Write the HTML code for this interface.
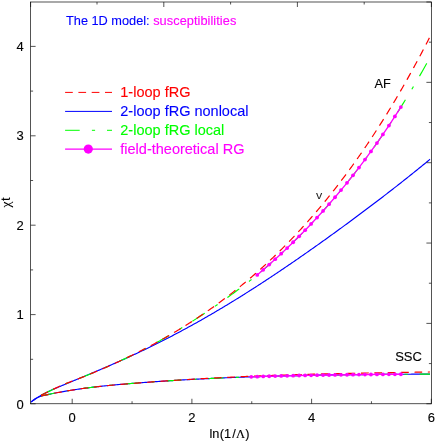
<!DOCTYPE html>
<html><head><meta charset="utf-8"><title>The 1D model: susceptibilities</title>
<style>html,body{margin:0;padding:0;background:#fff}body{width:436px;height:442px;position:relative;overflow:hidden}</style>
</head><body>
<svg width="436" height="442" viewBox="0 0 436 442" style="position:absolute;left:0;top:0">
<rect width="436" height="442" fill="#fff"/>
<g fill="none" stroke-width="1.3" stroke-linecap="butt">
<path d="M31.10,402.00 L32.10,401.30 L33.10,400.60 L34.10,399.92 L35.10,399.23 L36.10,398.55 L37.10,397.86 L38.10,397.18 L39.10,396.53 L40.10,395.92 L41.10,395.35 L42.10,394.81 L43.10,394.28 L44.10,393.76 L45.10,393.26 L46.10,392.75 L47.10,392.25 L48.10,391.75 L49.10,391.27 L50.10,390.79 L51.09,390.31 L52.09,389.84 L53.09,389.38 L54.09,388.93 L55.09,388.49 L56.09,388.05 L57.09,387.62 L58.09,387.19 L59.09,386.77 L60.09,386.35 L61.09,385.93 L62.09,385.52 L63.09,385.10 L64.09,384.68 L65.09,384.27 L66.09,383.86 L67.09,383.45 L68.09,383.03 L69.09,382.62 L70.09,382.21 L71.09,381.80 L72.09,381.38 L73.09,380.97 L74.09,380.56 L75.09,380.15 L76.09,379.73 L77.09,379.32 L78.09,378.91 L79.09,378.49 L80.09,378.08 L81.09,377.66 L82.09,377.25 L83.09,376.83 L84.09,376.42 L85.09,376.00 L86.09,375.59 L87.09,375.17 L88.09,374.75 L89.09,374.33 L90.09,373.91 L91.08,373.49 L92.08,373.07 L93.08,372.65 L94.08,372.23 L95.08,371.81 L96.08,371.39 L97.08,370.96 L98.08,370.54 L99.08,370.11 L100.08,369.69 L101.08,369.26 L102.08,368.83 L103.08,368.40 L104.08,367.98 L105.08,367.55 L106.08,367.11 L107.08,366.68 L108.08,366.25 L109.08,365.81 L110.08,365.38 L111.08,364.94 L112.08,364.51 L113.08,364.07 L114.08,363.63 L115.08,363.19 L116.08,362.75 L117.08,362.30 L118.08,361.86 L119.08,361.41 L120.08,360.97 L121.08,360.52 L122.08,360.07 L123.08,359.62 L124.08,359.17 L125.08,358.72 L126.08,358.27 L127.08,357.81 L128.08,357.36 L129.08,356.90 L130.08,356.44 L131.07,355.98 L132.07,355.52 L133.07,355.06 L134.07,354.59 L135.07,354.13 L136.07,353.66 L137.07,353.19 L138.07,352.72 L139.07,352.25 L140.07,351.78 L141.07,351.31 L142.07,350.83 L143.07,350.36 L144.07,349.88 L145.07,349.40 L146.07,348.92 L147.07,348.44 L148.07,347.95 L149.07,347.47 L150.07,346.98 L151.07,346.50 L152.07,346.01 L153.07,345.51 L154.07,345.02 L155.07,344.53 L156.07,344.03 L157.07,343.54 L158.07,343.04 L159.07,342.54 L160.07,342.04 L161.07,341.53 L162.07,341.03 L163.07,340.52 L164.07,340.01 L165.07,339.51 L166.07,338.99 L167.07,338.48 L168.07,337.97 L169.07,337.45 L170.07,336.94 L171.06,336.42 L172.06,335.90 L173.06,335.38 L174.06,334.85 L175.06,334.33 L176.06,333.80 L177.06,333.27 L178.06,332.74 L179.06,332.21 L180.06,331.68 L181.06,331.14 L182.06,330.61 L183.06,330.07 L184.06,329.53 L185.06,328.99 L186.06,328.45 L187.06,327.91 L188.06,327.36 L189.06,326.81 L190.06,326.26 L191.06,325.71 L192.06,325.16 L193.06,324.61 L194.06,324.05 L195.06,323.50 L196.06,322.94 L197.06,322.38 L198.06,321.82 L199.06,321.26 L200.06,320.69 L201.06,320.13 L202.06,319.56 L203.06,318.99 L204.06,318.42 L205.06,317.85 L206.06,317.28 L207.06,316.70 L208.06,316.12 L209.06,315.55 L210.06,314.97 L211.05,314.39 L212.05,313.80 L213.05,313.22 L214.05,312.63 L215.05,312.05 L216.05,311.46 L217.05,310.87 L218.05,310.28 L219.05,309.68 L220.05,309.09 L221.05,308.49 L222.05,307.90 L223.05,307.30 L224.05,306.70 L225.05,306.10 L226.05,305.49 L227.05,304.89 L228.05,304.28 L229.05,303.67 L230.05,303.07 L231.05,302.45 L232.05,301.84 L233.05,301.23 L234.05,300.62 L235.05,300.00 L236.05,299.38 L237.05,298.76 L238.05,298.14 L239.05,297.52 L240.05,296.90 L241.05,296.27 L242.05,295.65 L243.05,295.02 L244.05,294.39 L245.05,293.76 L246.05,293.13 L247.05,292.50 L248.05,291.87 L249.05,291.23 L250.05,290.60 L251.04,289.96 L252.04,289.32 L253.04,288.68 L254.04,288.04 L255.04,287.40 L256.04,286.75 L257.04,286.11 L258.04,285.46 L259.04,284.81 L260.04,284.16 L261.04,283.51 L262.04,282.86 L263.04,282.21 L264.04,281.56 L265.04,280.90 L266.04,280.25 L267.04,279.59 L268.04,278.93 L269.04,278.27 L270.04,277.61 L271.04,276.95 L272.04,276.29 L273.04,275.62 L274.04,274.96 L275.04,274.29 L276.04,273.62 L277.04,272.95 L278.04,272.28 L279.04,271.61 L280.04,270.94 L281.04,270.27 L282.04,269.59 L283.04,268.92 L284.04,268.24 L285.04,267.56 L286.04,266.89 L287.04,266.21 L288.04,265.52 L289.04,264.84 L290.04,264.16 L291.03,263.48 L292.03,262.79 L293.03,262.11 L294.03,261.42 L295.03,260.73 L296.03,260.04 L297.03,259.35 L298.03,258.66 L299.03,257.97 L300.03,257.28 L301.03,256.58 L302.03,255.89 L303.03,255.19 L304.03,254.50 L305.03,253.80 L306.03,253.10 L307.03,252.40 L308.03,251.70 L309.03,251.00 L310.03,250.30 L311.03,249.59 L312.03,248.89 L313.03,248.19 L314.03,247.48 L315.03,246.77 L316.03,246.07 L317.03,245.36 L318.03,244.65 L319.03,243.94 L320.03,243.23 L321.03,242.51 L322.03,241.80 L323.03,241.09 L324.03,240.37 L325.03,239.66 L326.03,238.94 L327.03,238.22 L328.03,237.50 L329.03,236.78 L330.03,236.06 L331.02,235.34 L332.02,234.62 L333.02,233.90 L334.02,233.18 L335.02,232.45 L336.02,231.73 L337.02,231.00 L338.02,230.27 L339.02,229.55 L340.02,228.82 L341.02,228.09 L342.02,227.36 L343.02,226.63 L344.02,225.89 L345.02,225.16 L346.02,224.43 L347.02,223.69 L348.02,222.96 L349.02,222.22 L350.02,221.48 L351.02,220.75 L352.02,220.01 L353.02,219.27 L354.02,218.53 L355.02,217.79 L356.02,217.04 L357.02,216.30 L358.02,215.56 L359.02,214.81 L360.02,214.07 L361.02,213.32 L362.02,212.57 L363.02,211.83 L364.02,211.08 L365.02,210.33 L366.02,209.58 L367.02,208.82 L368.02,208.07 L369.02,207.32 L370.02,206.56 L371.01,205.81 L372.01,205.05 L373.01,204.29 L374.01,203.54 L375.01,202.78 L376.01,202.02 L377.01,201.26 L378.01,200.49 L379.01,199.73 L380.01,198.97 L381.01,198.20 L382.01,197.44 L383.01,196.67 L384.01,195.90 L385.01,195.13 L386.01,194.36 L387.01,193.59 L388.01,192.82 L389.01,192.05 L390.01,191.27 L391.01,190.50 L392.01,189.72 L393.01,188.95 L394.01,188.17 L395.01,187.39 L396.01,186.61 L397.01,185.83 L398.01,185.04 L399.01,184.26 L400.01,183.47 L401.01,182.69 L402.01,181.90 L403.01,181.11 L404.01,180.32 L405.01,179.53 L406.01,178.74 L407.01,177.94 L408.01,177.15 L409.01,176.35 L410.01,175.56 L411.00,174.76 L412.00,173.96 L413.00,173.16 L414.00,172.35 L415.00,171.55 L416.00,170.74 L417.00,169.94 L418.00,169.13 L419.00,168.32 L420.00,167.51 L421.00,166.69 L422.00,165.88 L423.00,165.06 L424.00,164.24 L425.00,163.43 L426.00,162.60 L427.00,161.78 L428.00,160.96 L429.00,160.13 L430.00,159.30" stroke="#0000ff" stroke-width="1.15"/>
<path d="M31.10,402.01 L32.10,401.08 L33.10,400.25 L34.10,399.50 L35.10,398.84 L36.10,398.25 L37.10,397.72 L38.10,397.26 L39.10,396.84 L40.10,396.48 L41.10,396.16 L42.40,395.79 L43.70,395.46 L45.00,395.17 L46.30,394.89 L47.60,394.61 L48.90,394.34 L50.20,394.07 L51.51,393.80 L52.81,393.54 L54.11,393.28 L55.41,393.03 L56.71,392.78 L58.01,392.53 L59.31,392.29 L60.61,392.05 L61.91,391.81 L63.21,391.58 L64.51,391.35 L65.81,391.12 L67.11,390.90 L68.41,390.68 L69.71,390.47 L71.02,390.26 L72.32,390.05 L73.62,389.85 L74.92,389.65 L76.22,389.45 L77.52,389.26 L78.82,389.07 L80.12,388.89 L81.42,388.70 L82.72,388.52 L84.02,388.35 L85.32,388.17 L86.62,388.00 L87.92,387.84 L89.22,387.67 L90.53,387.51 L91.83,387.35 L93.13,387.19 L94.43,387.04 L95.73,386.89 L97.03,386.74 L98.33,386.60 L99.63,386.45 L100.93,386.31 L102.23,386.17 L103.53,386.03 L104.83,385.90 L106.13,385.77 L107.43,385.64 L108.73,385.51 L110.04,385.38 L111.34,385.25 L112.64,385.13 L113.94,385.01 L115.24,384.89 L116.54,384.77 L117.84,384.65 L119.14,384.54 L120.44,384.42 L121.74,384.31 L123.04,384.20 L124.34,384.09 L125.64,383.98 L126.94,383.87 L128.24,383.76 L129.55,383.65 L130.85,383.55 L132.15,383.44 L133.45,383.34 L134.75,383.23 L136.05,383.13 L137.35,383.03 L138.65,382.93 L139.95,382.83 L141.25,382.73 L142.55,382.63 L143.85,382.53 L145.15,382.43 L146.45,382.34 L147.75,382.24 L149.06,382.15 L150.36,382.05 L151.66,381.96 L152.96,381.87 L154.26,381.77 L155.56,381.68 L156.86,381.59 L158.16,381.50 L159.46,381.41 L160.76,381.33 L162.06,381.24 L163.36,381.15 L164.66,381.07 L165.96,380.98 L167.26,380.90 L168.57,380.81 L169.87,380.73 L171.17,380.65 L172.47,380.57 L173.77,380.49 L175.07,380.41 L176.37,380.33 L177.67,380.25 L178.97,380.17 L180.27,380.09 L181.57,380.02 L182.87,379.94 L184.17,379.86 L185.47,379.79 L186.77,379.72 L188.08,379.64 L189.38,379.57 L190.68,379.50 L191.98,379.43 L193.28,379.36 L194.58,379.29 L195.88,379.22 L197.18,379.15 L198.48,379.08 L199.78,379.01 L201.08,378.95 L202.38,378.88 L203.68,378.82 L204.98,378.75 L206.28,378.69 L207.59,378.62 L208.89,378.56 L210.19,378.50 L211.49,378.44 L212.79,378.38 L214.09,378.32 L215.39,378.26 L216.69,378.20 L217.99,378.14 L219.29,378.08 L220.59,378.02 L221.89,377.97 L223.19,377.91 L224.49,377.85 L225.79,377.80 L227.10,377.74 L228.40,377.69 L229.70,377.64 L231.00,377.58 L232.30,377.53 L233.60,377.48 L234.90,377.43 L236.20,377.38 L237.50,377.33 L238.80,377.28 L240.10,377.23 L241.40,377.18 L242.70,377.13 L244.00,377.09 L245.31,377.04 L246.61,376.99 L247.91,376.95 L249.21,376.90 L250.51,376.86 L251.81,376.81 L253.11,376.77 L254.41,376.73 L255.71,376.68 L257.01,376.64 L258.31,376.60 L259.61,376.56 L260.91,376.52 L262.21,376.48 L263.51,376.44 L264.82,376.40 L266.12,376.36 L267.42,376.32 L268.72,376.28 L270.02,376.24 L271.32,376.21 L272.62,376.17 L273.92,376.13 L275.22,376.10 L276.52,376.06 L277.82,376.03 L279.12,376.00 L280.42,375.96 L281.72,375.93 L283.02,375.89 L284.33,375.86 L285.63,375.83 L286.93,375.80 L288.23,375.77 L289.53,375.74 L290.83,375.71 L292.13,375.68 L293.43,375.65 L294.73,375.62 L296.03,375.59 L297.33,375.56 L298.63,375.53 L299.93,375.50 L301.23,375.48 L302.53,375.45 L303.84,375.42 L305.14,375.40 L306.44,375.37 L307.74,375.34 L309.04,375.32 L310.34,375.29 L311.64,375.27 L312.94,375.25 L314.24,375.22 L315.54,375.20 L316.84,375.18 L318.14,375.15 L319.44,375.13 L320.74,375.11 L322.04,375.09 L323.35,375.07 L324.65,375.04 L325.95,375.02 L327.25,375.00 L328.55,374.98 L329.85,374.96 L331.15,374.94 L332.45,374.92 L333.75,374.91 L335.05,374.89 L336.35,374.87 L337.65,374.85 L338.95,374.83 L340.25,374.82 L341.55,374.80 L342.86,374.78 L344.16,374.76 L345.46,374.75 L346.76,374.73 L348.06,374.72 L349.36,374.70 L350.66,374.69 L351.96,374.67 L353.26,374.66 L354.56,374.64 L355.86,374.63 L357.16,374.61 L358.46,374.60 L359.76,374.59 L361.06,374.57 L362.37,374.56 L363.67,374.55 L364.97,374.53 L366.27,374.52 L367.57,374.51 L368.87,374.50 L370.17,374.48 L371.47,374.47 L372.77,374.46 L374.07,374.45 L375.37,374.44 L376.67,374.43 L377.97,374.42 L379.27,374.41 L380.57,374.40 L381.88,374.39 L383.18,374.38 L384.48,374.37 L385.78,374.36 L387.08,374.35 L388.38,374.34 L389.68,374.33 L390.98,374.32 L392.28,374.31 L393.58,374.30 L394.88,374.29 L396.18,374.28 L397.48,374.28 L398.78,374.27 L400.08,374.26 L401.39,374.25 L402.69,374.24 L403.99,374.24 L405.29,374.23 L406.59,374.22 L407.89,374.21 L409.19,374.21 L410.49,374.20 L411.79,374.19 L413.09,374.18 L414.39,374.18 L415.69,374.17 L416.99,374.16 L418.29,374.16 L419.59,374.15 L420.90,374.14 L422.20,374.14 L423.50,374.13 L424.80,374.12 L426.10,374.12 L427.40,374.11 L428.70,374.11 L430.00,374.10" stroke="#0000ff" stroke-width="1.15"/>
<path d="M41.10,395.35 L42.07,394.82 L43.05,394.30 L44.02,393.80 L45.00,393.31 L45.97,392.81 L46.95,392.33 L47.92,391.85 L48.90,391.38 L49.87,390.91 L50.85,390.45 L51.82,389.99 L52.80,389.53 L53.77,389.07 L54.75,388.60 L55.72,388.13 L56.69,387.65 L57.67,387.18 L58.64,386.70 L59.62,386.24 L60.59,385.77 L61.57,385.32 L62.54,384.89 L63.52,384.46 L64.49,384.08 L65.47,383.71 L66.44,383.35 L67.42,382.98 L68.39,382.62 L69.37,382.25 L70.34,381.88 L71.32,381.51 L72.29,381.13 L73.26,380.76 L74.24,380.38 L75.21,380.01 L76.19,379.63 L77.16,379.25 L78.14,378.87 L79.11,378.48 L80.09,378.10 L81.06,377.71 L82.04,377.33 L83.01,376.94 L83.99,376.55 L84.96,376.16 L85.94,375.76 L86.91,375.37 L87.88,374.97 L88.86,374.57 L89.83,374.18 L90.81,373.77 L91.78,373.37 L92.76,372.97 L93.73,372.56 L94.71,372.16 L95.68,371.75 L96.66,371.34 L97.63,370.92 L98.61,370.51 L99.58,370.09 L100.56,369.68 L101.53,369.26 L102.51,368.84 L103.48,368.42 L104.45,367.99 L105.43,367.57 L106.40,367.14 L107.38,366.71 L108.35,366.28 L109.33,365.85 L110.30,365.41 L111.28,364.98 L112.25,364.54 L113.23,364.10 L114.20,363.66 L115.18,363.21 L116.15,362.77 L117.13,362.32 L118.10,361.87 L119.07,361.42 L120.05,360.97 L121.02,360.51 L122.00,360.06 L122.97,359.60 L123.95,359.14 L124.92,358.68 L125.90,358.21 L126.87,357.75 L127.85,357.28 L128.82,356.81 L129.80,356.33 L130.77,355.86 L131.75,355.38 L132.72,354.91 L133.70,354.43 L134.67,353.94 L135.64,353.46 L136.62,352.97 L137.59,352.48 L138.57,351.99 L139.54,351.50 L140.52,351.00 L141.49,350.51 L142.47,350.01 L143.44,349.51 L144.42,349.00 L145.39,348.50 L146.37,347.99 L147.34,347.48 L148.32,346.96 L149.29,346.45 L150.26,345.93 L151.24,345.41 L152.21,344.89 L153.19,344.37 L154.16,343.84 L155.14,343.31 L156.11,342.78 L157.09,342.25 L158.06,341.71 L159.04,341.17 L160.01,340.63 L160.99,340.09 L161.96,339.54 L162.94,338.99 L163.91,338.44 L164.89,337.89 L165.86,337.33 L166.83,336.78 L167.81,336.22 L168.78,335.65 L169.76,335.09 L170.73,334.52 L171.71,333.95 L172.68,333.37 L173.66,332.80 L174.63,332.22 L175.61,331.64 L176.58,331.05 L177.56,330.47 L178.53,329.88 L179.51,329.29 L180.48,328.69 L181.45,328.10 L182.43,327.50 L183.40,326.89 L184.38,326.29 L185.35,325.68 L186.33,325.07 L187.30,324.46 L188.28,323.84 L189.25,323.23 L190.23,322.61 L191.20,321.99 L192.18,321.37 L193.15,320.75 L194.13,320.12 L195.10,319.49 L196.08,318.87 L197.05,318.24 L198.02,317.60 L199.00,316.97 L199.97,316.33 L200.95,315.70 L201.92,315.06 L202.90,314.41 L203.87,313.77 L204.85,313.12 L205.82,312.47 L206.80,311.82 L207.77,311.17 L208.75,310.52 L209.72,309.86 L210.70,309.20 L211.67,308.54 L212.64,307.88 L213.62,307.21 L214.59,306.55 L215.57,305.88 L216.54,305.20 L217.52,304.53 L218.49,303.85 L219.47,303.18 L220.44,302.49 L221.42,301.81 L222.39,301.13 L223.37,300.44 L224.34,299.75 L225.32,299.05 L226.29,298.36 L227.27,297.66 L228.24,296.96 L229.21,296.26 L230.19,295.56 L231.16,294.85 L232.14,294.14 L233.11,293.43 L234.09,292.71 L235.06,291.99 L236.04,291.27 L237.01,290.55 L237.99,289.83 L238.96,289.10 L239.94,288.37 L240.91,287.63 L241.89,286.90 L242.86,286.16 L243.83,285.42 L244.81,284.68 L245.78,283.93 L246.76,283.18 L247.73,282.43 L248.71,281.67 L249.68,280.91 L250.66,280.15 L251.63,279.39 L252.61,278.62 L253.58,277.85 L254.56,277.08 L255.53,276.31 L256.51,275.53 L257.48,274.75 L258.46,273.93 L259.43,273.10 L260.40,272.27 L261.38,271.43 L262.35,270.59 L263.33,269.75 L264.30,268.91 L265.28,268.06 L266.25,267.20 L267.23,266.35 L268.20,265.49 L269.18,264.62 L270.15,263.76 L271.13,262.89 L272.10,262.01 L273.08,261.14 L274.05,260.26 L275.02,259.37 L276.00,258.48 L276.97,257.59 L277.95,256.70 L278.92,255.80 L279.90,254.90 L280.87,253.99 L281.85,253.08 L282.82,252.17 L283.80,251.25 L284.77,250.33 L285.75,249.40 L286.72,248.48 L287.70,247.54 L288.67,246.61 L289.65,245.67 L290.62,244.72 L291.59,243.78 L292.57,242.82 L293.54,241.87 L294.52,240.91 L295.49,239.95 L296.47,238.98 L297.44,238.01 L298.42,237.03 L299.39,236.05 L300.37,235.07 L301.34,234.08 L302.32,233.09 L303.29,232.09 L304.27,231.09 L305.24,230.09 L306.21,229.08 L307.19,228.07 L308.16,227.05 L309.14,226.03 L310.11,225.01 L311.09,223.98 L312.06,222.94 L313.04,221.90 L314.01,220.86 L314.99,219.81 L315.96,218.76 L316.94,217.71 L317.91,216.65 L318.89,215.58 L319.86,214.51 L320.84,213.44 L321.81,212.36 L322.78,211.27 L323.76,210.19 L324.73,209.09 L325.71,208.00 L326.68,206.89 L327.66,205.79 L328.63,204.68 L329.61,203.56 L330.58,202.44 L331.56,201.31 L332.53,200.18 L333.51,199.05 L334.48,197.91 L335.46,196.76 L336.43,195.61 L337.40,194.46 L338.38,193.30 L339.35,192.13 L340.33,190.96 L341.30,189.79 L342.28,188.60 L343.25,187.42 L344.23,186.23 L345.20,185.03 L346.18,183.83 L347.15,182.62 L348.13,181.41 L349.10,180.19 L350.08,178.97 L351.05,177.74 L352.03,176.51 L353.00,175.27 L353.97,174.03 L354.95,172.78 L355.92,171.52 L356.90,170.26 L357.87,169.00 L358.85,167.72 L359.82,166.45 L360.80,165.16 L361.77,163.87 L362.75,162.58 L363.72,161.28 L364.70,159.97 L365.67,158.66 L366.65,157.34 L367.62,156.02 L368.59,154.69 L369.57,153.35 L370.54,152.01 L371.52,150.66 L372.49,149.31 L373.47,147.95 L374.44,146.58 L375.42,145.21 L376.39,143.83 L377.37,142.45 L378.34,141.06 L379.32,139.66 L380.29,138.26 L381.27,136.85 L382.24,135.43 L383.22,134.01 L384.19,132.58 L385.16,131.15 L386.14,129.70 L387.11,128.26 L388.09,126.80 L389.06,125.34 L390.04,123.87 L391.01,122.40 L391.99,120.91 L392.96,119.43 L393.94,117.93 L394.91,116.43 L395.89,114.92 L396.86,113.40 L397.84,111.88 L398.81,110.35 L399.78,108.82 L400.76,107.27 L401.73,105.72 L402.71,104.16 L403.68,102.60 L404.66,101.03 L405.63,99.45 L406.61,97.86 L407.58,96.27 L408.56,94.66 L409.53,93.06 L410.51,91.44 L411.48,89.82 L412.46,88.18 L413.43,86.55 L414.41,84.90 L415.38,83.25 L416.35,81.58 L417.33,79.91 L418.30,78.24 L419.28,76.55 L420.25,74.86 L421.23,73.16 L422.20,71.45 L423.18,69.74 L424.15,68.01 L425.13,66.28 L426.10,64.54 L427.08,62.79 L428.05,61.04 L429.03,59.27 L430.00,57.50" stroke="#00ff00" stroke-width="1.15" stroke-dasharray="14.7 12.3 3.2 12.0"/>
<path d="M41.10,396.16 L42.40,395.79 L43.70,395.46 L45.00,395.17 L46.30,394.89 L47.60,394.61 L48.90,394.34 L50.20,394.07 L51.51,393.80 L52.81,393.54 L54.11,393.28 L55.41,393.03 L56.71,392.78 L58.01,392.53 L59.31,392.29 L60.61,392.05 L61.91,391.81 L63.21,391.58 L64.51,391.35 L65.81,391.12 L67.11,390.90 L68.41,390.68 L69.71,390.47 L71.02,390.26 L72.32,390.05 L73.62,389.85 L74.92,389.65 L76.22,389.45 L77.52,389.26 L78.82,389.07 L80.12,388.89 L81.42,388.70 L82.72,388.52 L84.02,388.35 L85.32,388.17 L86.62,388.00 L87.92,387.84 L89.22,387.67 L90.53,387.51 L91.83,387.35 L93.13,387.19 L94.43,387.04 L95.73,386.89 L97.03,386.74 L98.33,386.60 L99.63,386.45 L100.93,386.31 L102.23,386.17 L103.53,386.03 L104.83,385.90 L106.13,385.77 L107.43,385.64 L108.73,385.51 L110.04,385.38 L111.34,385.25 L112.64,385.13 L113.94,385.01 L115.24,384.89 L116.54,384.77 L117.84,384.65 L119.14,384.54 L120.44,384.42 L121.74,384.31 L123.04,384.20 L124.34,384.09 L125.64,383.98 L126.94,383.87 L128.24,383.76 L129.55,383.65 L130.85,383.55 L132.15,383.44 L133.45,383.34 L134.75,383.23 L136.05,383.13 L137.35,383.03 L138.65,382.93 L139.95,382.83 L141.25,382.73 L142.55,382.63 L143.85,382.53 L145.15,382.43 L146.45,382.34 L147.75,382.24 L149.06,382.15 L150.36,382.05 L151.66,381.96 L152.96,381.87 L154.26,381.77 L155.56,381.68 L156.86,381.59 L158.16,381.50 L159.46,381.41 L160.76,381.33 L162.06,381.24 L163.36,381.15 L164.66,381.07 L165.96,380.98 L167.26,380.90 L168.57,380.81 L169.87,380.73 L171.17,380.65 L172.47,380.57 L173.77,380.49 L175.07,380.41 L176.37,380.33 L177.67,380.25 L178.97,380.17 L180.27,380.09 L181.57,380.02 L182.87,379.94 L184.17,379.86 L185.47,379.79 L186.77,379.72 L188.08,379.64 L189.38,379.57 L190.68,379.50 L191.98,379.43 L193.28,379.36 L194.58,379.29 L195.88,379.22 L197.18,379.15 L198.48,379.08 L199.78,379.01 L201.08,378.95 L202.38,378.88 L203.68,378.82 L204.98,378.75 L206.28,378.69 L207.59,378.62 L208.89,378.56 L210.19,378.50 L211.49,378.44 L212.79,378.38 L214.09,378.32 L215.39,378.26 L216.69,378.20 L217.99,378.14 L219.29,378.08 L220.59,378.02 L221.89,377.97 L223.19,377.91 L224.49,377.85 L225.79,377.80 L227.10,377.74 L228.40,377.69 L229.70,377.64 L231.00,377.58 L232.30,377.53 L233.60,377.48 L234.90,377.43 L236.20,377.38 L237.50,377.33 L238.80,377.28 L240.10,377.23 L241.40,377.18 L242.70,377.13 L244.00,377.09 L245.31,377.04 L246.61,376.99 L247.91,376.95 L249.21,376.90 L250.51,376.86 L251.81,376.81 L253.11,376.77 L254.41,376.73 L255.71,376.68 L257.01,376.64 L258.31,376.60 L259.61,376.56 L260.91,376.52 L262.21,376.48 L263.51,376.44 L264.82,376.40 L266.12,376.36 L267.42,376.32 L268.72,376.28 L270.02,376.24 L271.32,376.21 L272.62,376.17 L273.92,376.13 L275.22,376.10 L276.52,376.06 L277.82,376.03 L279.12,376.00 L280.42,375.96 L281.72,375.93 L283.02,375.89 L284.33,375.86 L285.63,375.83 L286.93,375.80 L288.23,375.77 L289.53,375.74 L290.83,375.71 L292.13,375.68 L293.43,375.65 L294.73,375.62 L296.03,375.59 L297.33,375.56 L298.63,375.53 L299.93,375.50 L301.23,375.48 L302.53,375.45 L303.84,375.42 L305.14,375.40 L306.44,375.37 L307.74,375.34 L309.04,375.32 L310.34,375.29 L311.64,375.27 L312.94,375.25 L314.24,375.22 L315.54,375.20 L316.84,375.18 L318.14,375.15 L319.44,375.13 L320.74,375.11 L322.04,375.09 L323.35,375.07 L324.65,375.04 L325.95,375.02 L327.25,375.00 L328.55,374.98 L329.85,374.96 L331.15,374.94 L332.45,374.92 L333.75,374.91 L335.05,374.89 L336.35,374.87 L337.65,374.85 L338.95,374.83 L340.25,374.82 L341.55,374.80 L342.86,374.78 L344.16,374.76 L345.46,374.75 L346.76,374.73 L348.06,374.72 L349.36,374.70 L350.66,374.69 L351.96,374.67 L353.26,374.66 L354.56,374.64 L355.86,374.63 L357.16,374.61 L358.46,374.60 L359.76,374.59 L361.06,374.57 L362.37,374.56 L363.67,374.55 L364.97,374.53 L366.27,374.52 L367.57,374.51 L368.87,374.50 L370.17,374.48 L371.47,374.47 L372.77,374.46 L374.07,374.45 L375.37,374.44 L376.67,374.43 L377.97,374.42 L379.27,374.41 L380.57,374.40 L381.88,374.39 L383.18,374.38 L384.48,374.37 L385.78,374.36 L387.08,374.35 L388.38,374.34 L389.68,374.33 L390.98,374.32 L392.28,374.31 L393.58,374.30 L394.88,374.29 L396.18,374.28 L397.48,374.28 L398.78,374.27 L400.08,374.26 L401.39,374.25 L402.69,374.24 L403.99,374.24 L405.29,374.23 L406.59,374.22 L407.89,374.21 L409.19,374.21 L410.49,374.20 L411.79,374.19 L413.09,374.18 L414.39,374.18 L415.69,374.17 L416.99,374.16 L418.29,374.16 L419.59,374.15 L420.90,374.14 L422.20,374.14 L423.50,374.13 L424.80,374.12 L426.10,374.12 L427.40,374.11 L428.70,374.11 L430.00,374.10" stroke="#00ff00" stroke-width="1.15" stroke-dasharray="14.7 12.3 3.2 12.0"/>
<path d="M41.10,395.35 L42.07,394.82 L43.05,394.30 L44.02,393.80 L44.99,393.31 L45.97,392.82 L46.94,392.33 L47.91,391.85 L48.89,391.38 L49.86,390.92 L50.83,390.46 L51.81,390.00 L52.78,389.54 L53.75,389.08 L54.72,388.61 L55.70,388.14 L56.67,387.66 L57.64,387.19 L58.62,386.72 L59.59,386.25 L60.56,385.79 L61.54,385.34 L62.51,384.90 L63.48,384.48 L64.46,384.09 L65.43,383.73 L66.40,383.36 L67.38,383.00 L68.35,382.63 L69.32,382.26 L70.30,381.89 L71.27,381.52 L72.24,381.15 L73.22,380.78 L74.19,380.40 L75.16,380.03 L76.13,379.65 L77.11,379.27 L78.08,378.89 L79.05,378.51 L80.03,378.12 L81.00,377.74 L81.97,377.35 L82.95,376.96 L83.92,376.57 L84.89,376.18 L85.87,375.79 L86.84,375.40 L87.81,375.00 L88.79,374.60 L89.76,374.21 L90.73,373.81 L91.71,373.40 L92.68,373.00 L93.65,372.60 L94.63,372.19 L95.60,371.78 L96.57,371.37 L97.54,370.96 L98.52,370.55 L99.49,370.13 L100.46,369.72 L101.44,369.30 L102.41,368.88 L103.38,368.46 L104.36,368.03 L105.33,367.61 L106.30,367.18 L107.28,366.76 L108.25,366.33 L109.22,365.89 L110.20,365.46 L111.17,365.02 L112.14,364.59 L113.12,364.15 L114.09,363.71 L115.06,363.27 L116.04,362.82 L117.01,362.38 L117.98,361.93 L118.95,361.48 L119.93,361.03 L120.90,360.57 L121.87,360.12 L122.85,359.66 L123.82,359.20 L124.79,358.74 L125.77,358.27 L126.74,357.81 L127.71,357.34 L128.69,356.87 L129.66,356.40 L130.63,355.93 L131.61,355.45 L132.58,354.98 L133.55,354.50 L134.53,354.01 L135.50,353.53 L136.47,353.05 L137.45,352.56 L138.42,352.07 L139.39,351.58 L140.36,351.08 L141.34,350.59 L142.31,350.09 L143.28,349.59 L144.26,349.08 L145.23,348.58 L146.20,348.07 L147.18,347.56 L148.15,347.05 L149.12,346.54 L150.10,346.02 L151.07,345.50 L152.04,344.98 L153.02,344.46 L153.99,343.93 L154.96,343.41 L155.94,342.88 L156.91,342.34 L157.88,341.81 L158.86,341.27 L159.83,340.73 L160.80,340.19 L161.77,339.65 L162.75,339.10 L163.72,338.55 L164.69,338.00 L165.67,337.44 L166.64,336.89 L167.61,336.33 L168.59,335.77 L169.56,335.20 L170.53,334.64 L171.51,334.07 L172.48,333.49 L173.45,332.92 L174.43,332.34 L175.40,331.76 L176.37,331.18 L177.35,330.60 L178.32,330.01 L179.29,329.42 L180.27,328.82 L181.24,328.23 L182.21,327.63 L183.18,327.03 L184.16,326.42 L185.13,325.82 L186.10,325.21 L187.08,324.60 L188.05,323.98 L189.02,323.36 L190.00,322.74 L190.97,322.12 L191.94,321.49 L192.92,320.86 L193.89,320.23 L194.86,319.59 L195.84,318.96 L196.81,318.31 L197.78,317.67 L198.76,317.02 L199.73,316.37 L200.70,315.72 L201.68,315.06 L202.65,314.40 L203.62,313.74 L204.59,313.08 L205.57,312.41 L206.54,311.74 L207.51,311.06 L208.49,310.38 L209.46,309.70 L210.43,309.02 L211.41,308.33 L212.38,307.64 L213.35,306.95 L214.33,306.25 L215.30,305.55 L216.27,304.84 L217.25,304.14 L218.22,303.43 L219.19,302.71 L220.17,302.00 L221.14,301.28 L222.11,300.55 L223.09,299.83 L224.06,299.10 L225.03,298.36 L226.00,297.62 L226.98,296.88 L227.95,296.14 L228.92,295.39 L229.90,294.64 L230.87,293.89 L231.84,293.13 L232.82,292.36 L233.79,291.60 L234.76,290.83 L235.74,290.06 L236.71,289.28 L237.68,288.50 L238.66,287.72 L239.63,286.93 L240.60,286.14 L241.58,285.34 L242.55,284.55 L243.52,283.74 L244.50,282.94 L245.47,282.13 L246.44,281.31 L247.41,280.50 L248.39,279.68 L249.36,278.85 L250.33,278.02 L251.31,277.19 L252.28,276.35 L253.25,275.51 L254.23,274.67 L255.20,273.82 L256.17,272.96 L257.15,272.11 L258.12,271.25 L259.09,270.38 L260.07,269.51 L261.04,268.64 L262.01,267.76 L262.99,266.88 L263.96,266.00 L264.93,265.11 L265.91,264.21 L266.88,263.31 L267.85,262.41 L268.82,261.51 L269.80,260.59 L270.77,259.68 L271.74,258.76 L272.72,257.84 L273.69,256.91 L274.66,255.98 L275.64,255.04 L276.61,254.10 L277.58,253.15 L278.56,252.20 L279.53,251.25 L280.50,250.29 L281.48,249.33 L282.45,248.36 L283.42,247.39 L284.40,246.41 L285.37,245.43 L286.34,244.44 L287.32,243.45 L288.29,242.46 L289.26,241.46 L290.23,240.45 L291.21,239.44 L292.18,238.43 L293.15,237.41 L294.13,236.39 L295.10,235.36 L296.07,234.33 L297.05,233.29 L298.02,232.24 L298.99,231.20 L299.97,230.14 L300.94,229.09 L301.91,228.02 L302.89,226.96 L303.86,225.89 L304.83,224.81 L305.81,223.73 L306.78,222.64 L307.75,221.55 L308.73,220.45 L309.70,219.35 L310.67,218.24 L311.64,217.13 L312.62,216.01 L313.59,214.89 L314.56,213.76 L315.54,212.62 L316.51,211.49 L317.48,210.34 L318.46,209.19 L319.43,208.04 L320.40,206.88 L321.38,205.71 L322.35,204.54 L323.32,203.37 L324.30,202.19 L325.27,201.00 L326.24,199.81 L327.22,198.61 L328.19,197.41 L329.16,196.20 L330.14,194.99 L331.11,193.77 L332.08,192.54 L333.05,191.31 L334.03,190.07 L335.00,188.83 L335.97,187.58 L336.95,186.33 L337.92,185.07 L338.89,183.81 L339.87,182.54 L340.84,181.26 L341.81,179.98 L342.79,178.69 L343.76,177.39 L344.73,176.09 L345.71,174.79 L346.68,173.48 L347.65,172.16 L348.63,170.84 L349.60,169.51 L350.57,168.17 L351.55,166.83 L352.52,165.48 L353.49,164.13 L354.46,162.77 L355.44,161.40 L356.41,160.03 L357.38,158.65 L358.36,157.27 L359.33,155.88 L360.30,154.48 L361.28,153.08 L362.25,151.67 L363.22,150.25 L364.20,148.83 L365.17,147.40 L366.14,145.97 L367.12,144.53 L368.09,143.08 L369.06,141.62 L370.04,140.16 L371.01,138.70 L371.98,137.22 L372.96,135.74 L373.93,134.26 L374.90,132.76 L375.87,131.26 L376.85,129.76 L377.82,128.24 L378.79,126.72 L379.77,125.20 L380.74,123.66 L381.71,122.12 L382.69,120.58 L383.66,119.02 L384.63,117.46 L385.61,115.89 L386.58,114.32 L387.55,112.74 L388.53,111.15 L389.50,109.56 L390.47,107.95 L391.45,106.34 L392.42,104.73 L393.39,103.11 L394.37,101.48 L395.34,99.84 L396.31,98.19 L397.28,96.54 L398.26,94.88 L399.23,93.22 L400.20,91.54 L401.18,89.86 L402.15,88.18 L403.12,86.48 L404.10,84.78 L405.07,83.07 L406.04,81.35 L407.02,79.63 L407.99,77.89 L408.96,76.15 L409.94,74.41 L410.91,72.65 L411.88,70.89 L412.86,69.12 L413.83,67.34 L414.80,65.56 L415.78,63.77 L416.75,61.97 L417.72,60.16 L418.69,58.34 L419.67,56.52 L420.64,54.69 L421.61,52.85 L422.59,51.00 L423.56,49.15 L424.53,47.29 L425.51,45.42 L426.48,43.54 L427.45,41.65 L428.43,39.76 L429.40,37.86" stroke="#ff0000" stroke-width="1.2" stroke-dasharray="7.7 5.68"/>
<path d="M41.10,396.16 L42.40,395.79 L43.70,395.46 L45.00,395.17 L46.30,394.89 L47.60,394.61 L48.90,394.34 L50.20,394.07 L51.51,393.80 L52.81,393.54 L54.11,393.28 L55.41,393.03 L56.71,392.78 L58.01,392.53 L59.31,392.29 L60.61,392.05 L61.91,391.81 L63.21,391.58 L64.51,391.35 L65.81,391.12 L67.11,390.90 L68.41,390.68 L69.71,390.47 L71.02,390.26 L72.32,390.05 L73.62,389.85 L74.92,389.65 L76.22,389.45 L77.52,389.26 L78.82,389.07 L80.12,388.89 L81.42,388.70 L82.72,388.52 L84.02,388.35 L85.32,388.17 L86.62,388.00 L87.92,387.84 L89.22,387.67 L90.53,387.51 L91.83,387.35 L93.13,387.19 L94.43,387.04 L95.73,386.89 L97.03,386.74 L98.33,386.60 L99.63,386.45 L100.93,386.31 L102.23,386.17 L103.53,386.03 L104.83,385.90 L106.13,385.77 L107.43,385.64 L108.73,385.51 L110.04,385.38 L111.34,385.25 L112.64,385.13 L113.94,385.01 L115.24,384.89 L116.54,384.77 L117.84,384.65 L119.14,384.54 L120.44,384.42 L121.74,384.31 L123.04,384.20 L124.34,384.09 L125.64,383.98 L126.94,383.87 L128.24,383.76 L129.55,383.65 L130.85,383.55 L132.15,383.44 L133.45,383.34 L134.75,383.23 L136.05,383.13 L137.35,383.03 L138.65,382.93 L139.95,382.83 L141.25,382.73 L142.55,382.63 L143.85,382.53 L145.15,382.43 L146.45,382.34 L147.75,382.24 L149.06,382.15 L150.36,382.05 L151.66,381.96 L152.96,381.86 L154.26,381.76 L155.56,381.67 L156.86,381.58 L158.16,381.48 L159.46,381.39 L160.76,381.30 L162.06,381.20 L163.36,381.11 L164.66,381.02 L165.96,380.93 L167.26,380.84 L168.57,380.75 L169.87,380.66 L171.17,380.58 L172.47,380.49 L173.77,380.40 L175.07,380.31 L176.37,380.23 L177.67,380.14 L178.97,380.06 L180.27,379.98 L181.57,379.89 L182.87,379.81 L184.17,379.73 L185.47,379.65 L186.77,379.57 L188.08,379.49 L189.38,379.41 L190.68,379.33 L191.98,379.25 L193.28,379.17 L194.58,379.09 L195.88,379.02 L197.18,378.94 L198.48,378.87 L199.78,378.79 L201.08,378.72 L202.38,378.64 L203.68,378.57 L204.98,378.50 L206.28,378.43 L207.59,378.36 L208.89,378.28 L210.19,378.21 L211.49,378.14 L212.79,378.08 L214.09,378.01 L215.39,377.94 L216.69,377.87 L217.99,377.80 L219.29,377.74 L220.59,377.67 L221.89,377.61 L223.19,377.54 L224.49,377.48 L225.79,377.41 L227.10,377.35 L228.40,377.29 L229.70,377.23 L231.00,377.17 L232.30,377.10 L233.60,377.04 L234.90,376.98 L236.20,376.92 L237.50,376.87 L238.80,376.81 L240.10,376.75 L241.40,376.69 L242.70,376.63 L244.00,376.58 L245.31,376.52 L246.61,376.47 L247.91,376.41 L249.21,376.36 L250.51,376.30 L251.81,376.25 L253.11,376.20 L254.41,376.14 L255.71,376.09 L257.01,376.04 L258.31,375.99 L259.61,375.94 L260.91,375.89 L262.21,375.84 L263.51,375.79 L264.82,375.74 L266.12,375.69 L267.42,375.64 L268.72,375.59 L270.02,375.55 L271.32,375.50 L272.62,375.45 L273.92,375.41 L275.22,375.36 L276.52,375.32 L277.82,375.27 L279.12,375.23 L280.42,375.18 L281.72,375.14 L283.02,375.10 L284.33,375.05 L285.63,375.01 L286.93,374.97 L288.23,374.93 L289.53,374.89 L290.83,374.85 L292.13,374.81 L293.43,374.77 L294.73,374.73 L296.03,374.69 L297.33,374.65 L298.63,374.61 L299.93,374.57 L301.23,374.53 L302.53,374.49 L303.84,374.46 L305.14,374.42 L306.44,374.38 L307.74,374.35 L309.04,374.31 L310.34,374.28 L311.64,374.24 L312.94,374.21 L314.24,374.17 L315.54,374.14 L316.84,374.10 L318.14,374.07 L319.44,374.04 L320.74,374.00 L322.04,373.97 L323.35,373.94 L324.65,373.91 L325.95,373.88 L327.25,373.84 L328.55,373.81 L329.85,373.78 L331.15,373.75 L332.45,373.72 L333.75,373.69 L335.05,373.66 L336.35,373.63 L337.65,373.60 L338.95,373.57 L340.25,373.54 L341.55,373.52 L342.86,373.49 L344.16,373.46 L345.46,373.43 L346.76,373.40 L348.06,373.38 L349.36,373.35 L350.66,373.32 L351.96,373.30 L353.26,373.27 L354.56,373.24 L355.86,373.22 L357.16,373.19 L358.46,373.17 L359.76,373.14 L361.06,373.12 L362.37,373.09 L363.67,373.07 L364.97,373.04 L366.27,373.02 L367.57,373.00 L368.87,372.97 L370.17,372.95 L371.47,372.92 L372.77,372.90 L374.07,372.88 L375.37,372.85 L376.67,372.83 L377.97,372.81 L379.27,372.79 L380.57,372.76 L381.88,372.74 L383.18,372.72 L384.48,372.70 L385.78,372.68 L387.08,372.65 L388.38,372.63 L389.68,372.61 L390.98,372.59 L392.28,372.57 L393.58,372.55 L394.88,372.53 L396.18,372.51 L397.48,372.49 L398.78,372.47 L400.08,372.45 L401.39,372.43 L402.69,372.41 L403.99,372.39 L405.29,372.37 L406.59,372.35 L407.89,372.33 L409.19,372.31 L410.49,372.29 L411.79,372.27 L413.09,372.25 L414.39,372.23 L415.69,372.21 L416.99,372.19 L418.29,372.17 L419.59,372.15 L420.90,372.13 L422.20,372.11 L423.50,372.09 L424.80,372.08 L426.10,372.06 L427.40,372.04 L428.70,372.02 L430.00,372.00" stroke="#ff0000" stroke-width="1.2" stroke-dasharray="7.7 5.68"/>
</g>
<g fill="none" stroke="#ff00ff" stroke-width="1.3">
<path d="M257.24,274.96 L263.22,269.85 L269.21,264.60 L275.19,259.22 L281.18,253.71 L287.16,248.06 L293.15,242.26 L299.13,236.32 L305.12,230.22 L311.10,223.96 L317.08,217.54 L323.07,210.96 L329.06,204.19 L335.04,197.25 L341.02,190.12 L347.01,182.80 L353.00,175.28 L358.98,167.55 L364.97,159.61 L370.95,151.45 L376.94,143.06 L382.92,134.44 L388.91,125.58 L394.89,116.46 L400.88,107.09"/>
<path d="M251.25,376.83 L257.24,376.63 L263.22,376.45 L269.20,376.27 L275.19,376.10 L281.18,375.94 L287.16,375.79 L293.15,375.65 L299.13,375.52 L305.12,375.40 L311.10,375.28 L317.08,375.17 L323.07,375.07 L329.06,374.98 L335.04,374.89 L341.02,374.81 L347.01,374.73 L353.00,374.66 L358.98,374.59 L364.97,374.53 L370.95,374.48 L376.94,374.43 L382.92,374.38 L388.91,374.33 L394.89,374.29 L400.88,374.25"/>
</g>
<g fill="#ff00ff">
<circle cx="257.24" cy="274.96" r="1.9"/>
<circle cx="263.22" cy="269.85" r="1.9"/>
<circle cx="269.21" cy="264.60" r="1.9"/>
<circle cx="275.19" cy="259.22" r="1.9"/>
<circle cx="281.18" cy="253.71" r="1.9"/>
<circle cx="287.16" cy="248.06" r="1.9"/>
<circle cx="293.15" cy="242.26" r="1.9"/>
<circle cx="299.13" cy="236.32" r="1.9"/>
<circle cx="305.12" cy="230.22" r="1.9"/>
<circle cx="311.10" cy="223.96" r="1.9"/>
<circle cx="317.08" cy="217.54" r="1.9"/>
<circle cx="323.07" cy="210.96" r="1.9"/>
<circle cx="329.06" cy="204.19" r="1.9"/>
<circle cx="335.04" cy="197.25" r="1.9"/>
<circle cx="341.02" cy="190.12" r="1.9"/>
<circle cx="347.01" cy="182.80" r="1.9"/>
<circle cx="353.00" cy="175.28" r="1.9"/>
<circle cx="358.98" cy="167.55" r="1.9"/>
<circle cx="364.97" cy="159.61" r="1.9"/>
<circle cx="370.95" cy="151.45" r="1.9"/>
<circle cx="376.94" cy="143.06" r="1.9"/>
<circle cx="382.92" cy="134.44" r="1.9"/>
<circle cx="388.91" cy="125.58" r="1.9"/>
<circle cx="394.89" cy="116.46" r="1.9"/>
<circle cx="400.88" cy="107.09" r="1.9"/>
<circle cx="251.25" cy="376.83" r="1.9"/>
<circle cx="257.24" cy="376.63" r="1.9"/>
<circle cx="263.22" cy="376.45" r="1.9"/>
<circle cx="269.20" cy="376.27" r="1.9"/>
<circle cx="275.19" cy="376.10" r="1.9"/>
<circle cx="281.18" cy="375.94" r="1.9"/>
<circle cx="287.16" cy="375.79" r="1.9"/>
<circle cx="293.15" cy="375.65" r="1.9"/>
<circle cx="299.13" cy="375.52" r="1.9"/>
<circle cx="305.12" cy="375.40" r="1.9"/>
<circle cx="311.10" cy="375.28" r="1.9"/>
<circle cx="317.08" cy="375.17" r="1.9"/>
<circle cx="323.07" cy="375.07" r="1.9"/>
<circle cx="329.06" cy="374.98" r="1.9"/>
<circle cx="335.04" cy="374.89" r="1.9"/>
<circle cx="341.02" cy="374.81" r="1.9"/>
<circle cx="347.01" cy="374.73" r="1.9"/>
<circle cx="353.00" cy="374.66" r="1.9"/>
<circle cx="358.98" cy="374.59" r="1.9"/>
<circle cx="364.97" cy="374.53" r="1.9"/>
<circle cx="370.95" cy="374.48" r="1.9"/>
<circle cx="376.94" cy="374.43" r="1.9"/>
<circle cx="382.92" cy="374.38" r="1.9"/>
<circle cx="388.91" cy="374.33" r="1.9"/>
<circle cx="394.89" cy="374.29" r="1.9"/>
<circle cx="400.88" cy="374.25" r="1.9"/>
</g>
<g fill="none" stroke-width="1.0">
<path d="M65.1,92.4H112" stroke="#ff0000" stroke-dasharray="7.7 5.6"/>
<path d="M65.1,111.4H112" stroke="#0000ff"/>
<path d="M65.1,130.3H112" stroke="#00ff00" stroke-dasharray="14.6 12.2 3.2 11.9"/>
<path d="M65.1,149.2H112" stroke="#ff00ff" stroke-width="1.3"/>
</g>
<circle cx="88.3" cy="149.1" r="4.6" fill="#ff00ff"/>
<g fill="none" stroke="#111" stroke-width="0.72">
<rect x="30.6" y="2.0" width="400.79999999999995" height="401.75"/>
<path d="M30.6,403.75h5 M30.6,314.60h5 M30.6,225.20h5 M30.6,135.80h5 M30.6,46.40h5 M30.6,359.30h2.5 M30.6,269.90h2.5 M30.6,180.50h2.5 M30.6,91.10h2.5 M72.20,403.75v-5 M191.90,403.75v-5 M311.60,403.75v-5 M431.30,403.75v-5 M132.05,403.75v-2.5 M251.75,403.75v-2.5 M371.45,403.75v-2.5 M30.60,2.0v5 M97.00,2.0v2.5 M163.80,2.0v5 M230.60,2.0v2.5 M297.40,2.0v5 M364.20,2.0v2.5 M431.40,2.0v5 M431.4,403.75h-5 M431.4,363.57h-2.5 M431.4,323.40h-5 M431.4,283.23h-2.5 M431.4,243.05h-5 M431.4,202.88h-2.5 M431.4,162.70h-5 M431.4,122.52h-2.5 M431.4,82.35h-5 M431.4,42.18h-2.5 M431.4,2.00h-5"/>
</g>
<g font-family="Liberation Sans, Arial, Helvetica, sans-serif" font-size="12.75" fill="#000" stroke="#000" stroke-width="0.12">
<text x="23.7" y="408.50" text-anchor="end" font-size="13">0</text>
<text x="23.7" y="319.10" text-anchor="end" font-size="13">1</text>
<text x="23.7" y="229.70" text-anchor="end" font-size="13">2</text>
<text x="23.7" y="140.30" text-anchor="end" font-size="13">3</text>
<text x="23.7" y="50.90" text-anchor="end" font-size="13">4</text>
<text x="72.20" y="422.2" text-anchor="middle" font-size="13">0</text>
<text x="191.90" y="422.2" text-anchor="middle" font-size="13">2</text>
<text x="311.60" y="422.2" text-anchor="middle" font-size="13">4</text>
<text x="431.30" y="422.2" text-anchor="middle" font-size="13">6</text>
<text x="209.4" y="437.6">ln<tspan dx="0.4">(1</tspan><tspan dx="1.2">/</tspan></text>
<text transform="translate(236.0,437.6) scale(1.08,1)" font-family="Liberation Serif, Times New Roman, serif" font-size="11.6">Λ</text>
<text x="245.3" y="437.6">)</text>
<text transform="translate(9.8,207.6) rotate(-90)"><tspan font-family="Liberation Serif, Times New Roman, serif" font-size="13.5">χ</tspan><tspan dx="0.6">t</tspan></text>
<text x="395.2" y="361" font-size="13">SSC</text>
<text x="374.6" y="87.9">AF</text>
<text transform="translate(316,199.3) scale(1.18,1)" font-size="10.6" stroke="none" fill="#222">v</text>
<text x="66" y="24.7"><tspan fill="#0000ff" stroke="#0000ff">The 1D model: </tspan><tspan fill="#ff00ff" stroke="#ff00ff" letter-spacing="0.06">susceptibilities</tspan></text>
</g>
<g font-family="Liberation Sans, Arial, Helvetica, sans-serif" font-size="14.5" stroke-width="0.12">
<text x="120.3" y="96.9" fill="#ff0000" stroke="#ff0000">1-loop fRG</text>
<text x="120.3" y="115.8" fill="#0000ff" stroke="#0000ff">2-loop fRG nonlocal</text>
<text x="120.3" y="134.8" fill="#00ff00" stroke="#00ff00">2-loop fRG local</text>
<text x="120.3" y="153.7" fill="#ff00ff" stroke="#ff00ff">field-theoretical RG</text>
</g>
</svg>
</body></html>
